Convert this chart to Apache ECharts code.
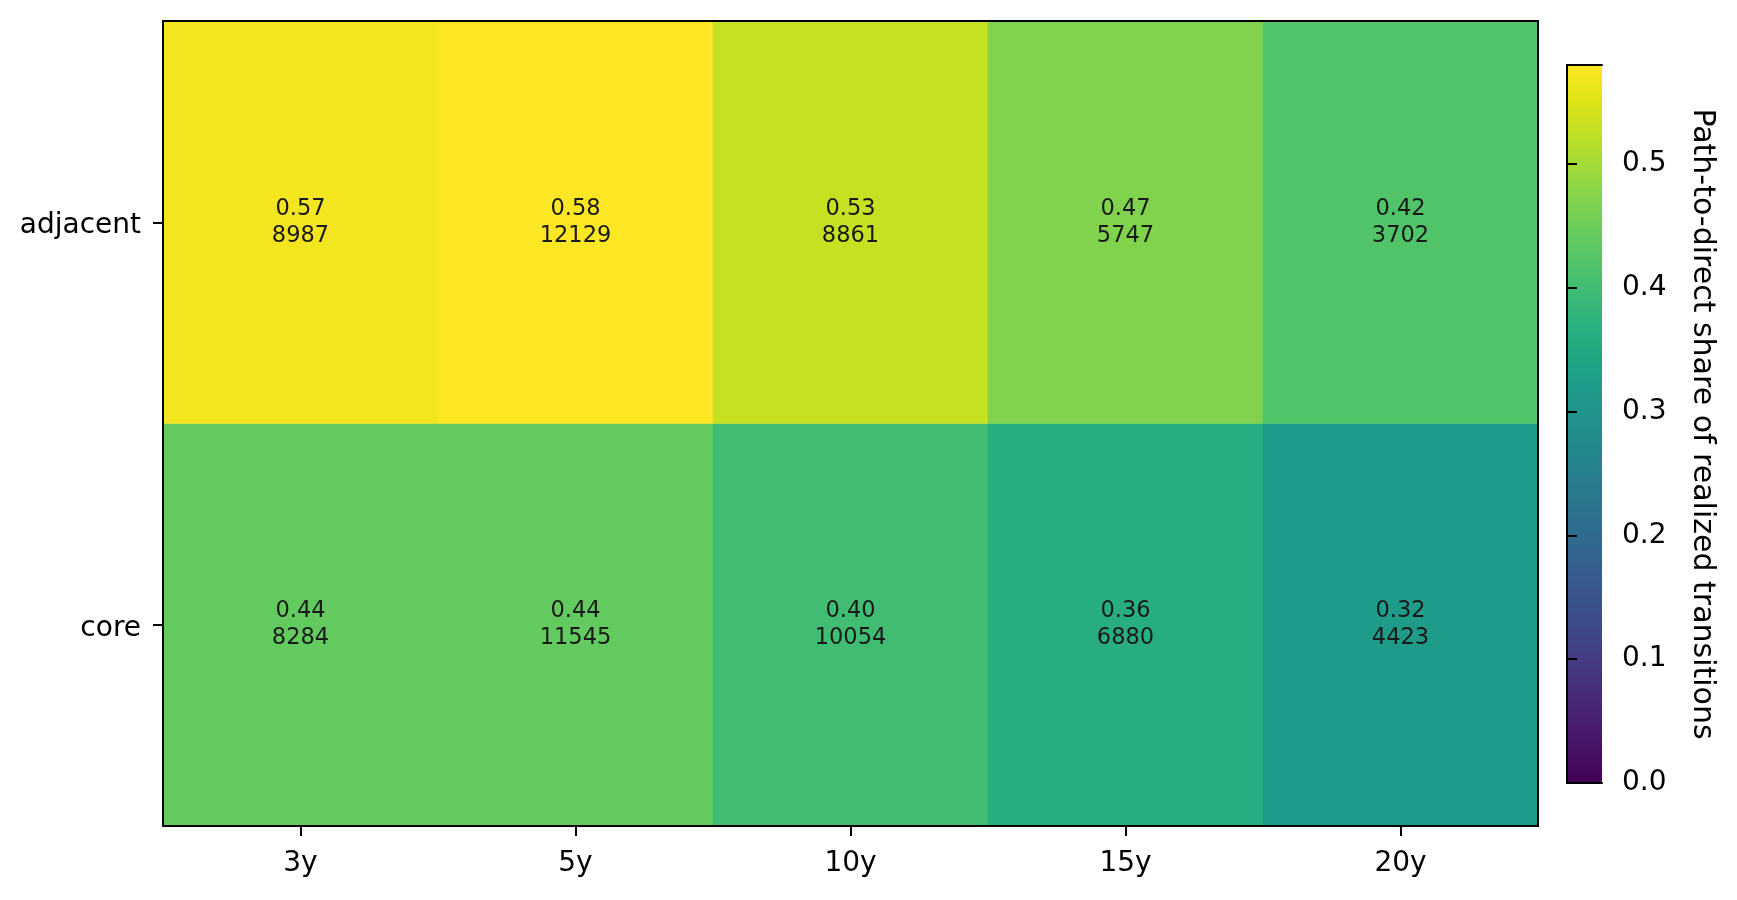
<!DOCTYPE html>
<html><head><meta charset="utf-8">
<script src="https://cdn.jsdelivr.net/npm/echarts@6/dist/echarts.min.js"></script>
<style>html,body{margin:0;padding:0;background:#fff}#c{width:1737px;height:900px}</style>
</head><body><div id="c"></div>
<script>
const horizons = ['3y', '5y', '10y', '15y', '20y'];
const groups = ['core', 'adjacent'];
const shareAdjacent = [0.57, 0.58, 0.53, 0.47, 0.42];
const countAdjacent = [8987, 12129, 8861, 5747, 3702];
const shareCore = [0.44, 0.44, 0.40, 0.36, 0.32];
const countCore = [8284, 11545, 10054, 6880, 4423];
const colorbarTicks = [0.0, 0.1, 0.2, 0.3, 0.4, 0.5];
const colorMin = 0, colorMax = 0.58;

const viridis = ['#440154','#471365','#482475','#463480','#414487','#3b528b','#355f8d','#2f6c8e','#2a788e','#25848e','#21918c','#1e9c89','#22a884','#2fb47c','#44bf70','#5ec962','#7ad151','#9bd93c','#bddf26','#dfe318','#fde725'];

const data = [];
horizons.forEach((h, i) => {
  data.push([i, 0, shareCore[i], countCore[i]]);
  data.push([i, 1, shareAdjacent[i], countAdjacent[i]]);
});

const FONT = 'DejaVu Sans';
const line = {color: '#000', width: 2};
const chart = echarts.init(document.getElementById('c'), null, {renderer: 'canvas'});
chart.setOption({
  animation: false,
  backgroundColor: '#fff',
  textStyle: {fontFamily: FONT},
  grid: [
    {left: 163, top: 21, width: 1375, height: 805, containLabel: false},
    {left: 1567, top: 65, width: 35, height: 718, containLabel: false}
  ],
  xAxis: [
    {type: 'category', data: horizons, gridIndex: 0, position: 'bottom', z: 10,
     axisLine: {show: true, lineStyle: line},
     axisTick: {show: true, alignWithLabel: true, length: 10, lineStyle: line},
     axisLabel: {color: '#000', fontSize: 28, fontFamily: FONT, margin: 24},
     splitLine: {show: false}},
    {type: 'category', data: horizons, gridIndex: 0, position: 'top', z: 10,
     axisLine: {show: true, onZero: false, lineStyle: line},
     axisTick: {show: false}, axisLabel: {show: false}},
    {type: 'value', gridIndex: 1, min: 0, max: 1, position: 'bottom', z: 10,
     axisLine: {show: true, onZero: false, lineStyle: line},
     axisTick: {show: false}, axisLabel: {show: false}, splitLine: {show: false}},
    {type: 'value', gridIndex: 1, min: 0, max: 1, position: 'top', z: 10,
     axisLine: {show: true, onZero: false, lineStyle: line},
     axisTick: {show: false}, axisLabel: {show: false}, splitLine: {show: false}}
  ],
  yAxis: [
    {type: 'category', data: groups, gridIndex: 0, position: 'left', z: 10,
     axisLine: {show: true, lineStyle: line},
     axisTick: {show: true, alignWithLabel: true, length: 10, lineStyle: line},
     axisLabel: {color: '#000', fontSize: 28, fontFamily: FONT, margin: 22,
       formatter: v => '{a|' + v + '}',
       rich: {a: {fontSize: 28, fontFamily: FONT, color: '#000', padding: [7, 0, 0, 0]}}},
     splitLine: {show: false}},
    {type: 'category', data: groups, gridIndex: 0, position: 'right', z: 10,
     axisLine: {show: true, onZero: false, lineStyle: line},
     axisTick: {show: false}, axisLabel: {show: false}},
    {type: 'value', gridIndex: 1, position: 'right', min: colorMin, max: colorMax, interval: 0.1, z: 10,
     axisLine: {show: true, lineStyle: line},
     axisTick: {show: true, length: 10, lineStyle: line, customValues: colorbarTicks},
     axisLabel: {color: '#000', fontSize: 28, fontFamily: FONT, margin: 20,
       customValues: colorbarTicks, formatter: v => v.toFixed(1)},
     splitLine: {show: false},
     name: 'Path-to-direct share of realized transitions',
     nameLocation: 'middle', nameRotate: -90, nameGap: 85,
     nameTextStyle: {color: '#000', fontSize: 30, fontFamily: FONT}},
    {type: 'value', gridIndex: 1, position: 'left', min: colorMin, max: colorMax, z: 10,
     axisLine: {show: true, lineStyle: line}, axisTick: {show: false}, axisLabel: {show: false},
     splitLine: {show: false}}
  ],
  visualMap: {
    type: 'continuous', min: colorMin, max: colorMax, dimension: 2, seriesIndex: 0,
    calculable: false, show: true, left: 1567, top: 65, itemWidth: 35, itemHeight: 718,
    padding: 0, text: null, showLabel: false, hoverLink: false,
    inRange: {color: viridis}
  },
  series: [{
    type: 'heatmap', xAxisIndex: 0, yAxisIndex: 0, data: data,
    itemStyle: {borderWidth: 0},
    label: {show: true, fontFamily: FONT, fontSize: 22.5, color: '#1a1a1a', lineHeight: 27,
      formatter: p => p.data[2].toFixed(2) + '\n' + p.data[3]},
    emphasis: {disabled: true}
  }, {
    type: 'line', xAxisIndex: 2, yAxisIndex: 2, data: [], silent: true
  }]
});
</script></body></html>
